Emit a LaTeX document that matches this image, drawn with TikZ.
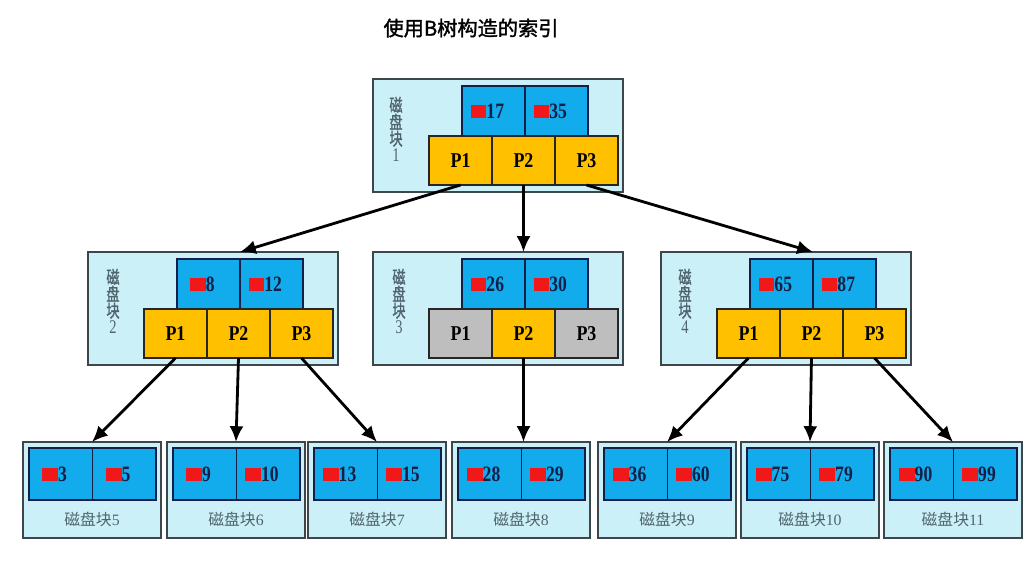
\documentclass[tikz,border=0pt]{standalone}
\usepackage{fontspec}
\usepackage{graphicx}
\setmainfont{Liberation Serif}
\newfontfamily\cjk[AutoFakeBold=1.5]{Noto Sans CJK SC}
\usetikzlibrary{arrows.meta, positioning}
\definecolor{diskbg}{RGB}{204,240,247}
\definecolor{keyblue}{RGB}{18,172,236}
\definecolor{ptryellow}{RGB}{255,192,0}
\definecolor{ptrgray}{RGB}{190,190,190}
\definecolor{keyred}{RGB}{240,24,24}
\definecolor{framegray}{RGB}{60,70,75}
\definecolor{numnavy}{RGB}{20,30,70}
\definecolor{labelgray}{RGB}{80,100,110}
\newcommand{\keyval}[1]{\textcolor{keyred}{\rule[0pt]{9pt}{7.5pt}}\scalebox{0.8}[1]{#1}\kern7pt}
\newcommand{\ptrval}[1]{\scalebox{0.85}[1]{#1}}
\newcommand{\vstrut}{\vrule height 7.8pt depth 1.2pt width 0pt}
\newcommand{\vdisk}[1]{\scalebox{0.75}[1]{\vbox{\offinterlineskip
	\hbox{\vstrut\cjk\bfseries 磁}\hbox{\vstrut\cjk\bfseries 盘}\hbox{\vstrut\cjk\bfseries 块}\hbox to 1em{\vstrut\hss\fontsize{11}{11}\selectfont #1\hss}}}}
\tikzset{disk/.style = {draw = framegray, fill = diskbg, line width = 1pt, inner sep = 0, outer sep = 0}}
\tikzset{nodeblock/.style = {disk, minimum width = 5cm, minimum height = 2.26cm}}
\tikzset{leafblock/.style = {disk, minimum width = 2.76cm, minimum height = 1.92cm}}
\tikzset{kcell/.style = {draw = numnavy, fill = keyblue, line width = 0.8pt, minimum width = 1.26cm, minimum height = 1cm, inner sep = 0, outer sep = 0, text = numnavy, font = \bfseries\fontsize{12.5}{13}\selectfont}}
\tikzset{leafkey/.style = {kcell, minimum width = 1.27cm, minimum height = 1.04cm}}
\tikzset{pcell/.style = {draw = black!85, fill = ptryellow, line width = 0.8pt, minimum width = 1.26cm, minimum height = 0.98cm, inner sep = 0, outer sep = 0, font = \bfseries\fontsize{12}{13}\selectfont}}
\tikzset{deadcell/.style = {pcell, fill = ptrgray}}
\tikzset{vlabel/.style = {text = labelgray, inner sep = 0, font = \fontsize{10}{10}\selectfont}}
\tikzset{leaflabel/.style = {text = labelgray, font = \fontsize{9}{10}\selectfont}}
\tikzset{ptr/.style = {-{Latex[length = 9pt, width = 8pt]}, line width = 1.6pt, black}}

\begin{document}
\begin{tikzpicture}[x = 0.02cm, y = -0.02cm]
	\path[fill = white] (0, 0) rectangle (1035, 565);
	\useasboundingbox (0, 0) rectangle (1035, 565);

	\node (title) at (471, 28) {\fontsize{11.5}{12}\selectfont\cjk\bfseries 使用B树构造的索引};

	% root
	\node[nodeblock] (b1) at (498, 135.5) {};
	\node[vlabel] (b1-name) at (396, 130) {\vdisk{1}};
	\node[kcell] (b1-k1) at (493.5, 111) {\keyval{17}};
	\node[kcell, right = 0pt of b1-k1] (b1-k2) {\keyval{35}};
	\node[pcell] (b1-p1) at (460.5, 160.5) {\ptrval{P1}};
	\node[pcell, right = 0pt of b1-p1] (b1-p2) {\ptrval{P2}};
	\node[pcell, right = 0pt of b1-p2] (b1-p3) {\ptrval{P3}};

	% second level
	\node[nodeblock] (b2) at (213, 308.5) {};
	\node[vlabel] (b2-name) at (113, 302) {\vdisk{2}};
	\node[kcell] (b2-k1) at (208.5, 284) {\keyval{8}};
	\node[kcell, right = 0pt of b2-k1] (b2-k2) {\keyval{12}};
	\node[pcell] (b2-p1) at (175.5, 333.5) {\ptrval{P1}};
	\node[pcell, right = 0pt of b2-p1] (b2-p2) {\ptrval{P2}};
	\node[pcell, right = 0pt of b2-p2] (b2-p3) {\ptrval{P3}};

	\node[nodeblock] (b3) at (498, 308.5) {};
	\node[vlabel] (b3-name) at (399, 302) {\vdisk{3}};
	\node[kcell] (b3-k1) at (493.5, 284) {\keyval{26}};
	\node[kcell, right = 0pt of b3-k1] (b3-k2) {\keyval{30}};
	\node[deadcell] (b3-p1) at (460.5, 333.5) {\ptrval{P1}};
	\node[pcell, right = 0pt of b3-p1] (b3-p2) {\ptrval{P2}};
	\node[deadcell, right = 0pt of b3-p2] (b3-p3) {\ptrval{P3}};

	\node[nodeblock] (b4) at (786, 308.5) {};
	\node[vlabel] (b4-name) at (685, 302) {\vdisk{4}};
	\node[kcell] (b4-k1) at (781.5, 284) {\keyval{65}};
	\node[kcell, right = 0pt of b4-k1] (b4-k2) {\keyval{87}};
	\node[pcell] (b4-p1) at (748.5, 333.5) {\ptrval{P1}};
	\node[pcell, right = 0pt of b4-p1] (b4-p2) {\ptrval{P2}};
	\node[pcell, right = 0pt of b4-p2] (b4-p3) {\ptrval{P3}};

	% leaves
	\node[leafblock] (l5) at (92, 490) {};
	\node[leafkey] (l5-k1) at (60.75, 474) {\keyval{3}};
	\node[leafkey, right = 0pt of l5-k1] (l5-k2) {\keyval{5}};
	\node[leaflabel] (l5-name) at (92, 519) {{\cjk 磁盘块}5};

	\node[leafblock] (l6) at (236, 490) {};
	\node[leafkey] (l6-k1) at (204.75, 474) {\keyval{9}};
	\node[leafkey, right = 0pt of l6-k1] (l6-k2) {\keyval{10}};
	\node[leaflabel] (l6-name) at (236, 519) {{\cjk 磁盘块}6};

	\node[leafblock] (l7) at (377, 490) {};
	\node[leafkey] (l7-k1) at (345.75, 474) {\keyval{13}};
	\node[leafkey, right = 0pt of l7-k1] (l7-k2) {\keyval{15}};
	\node[leaflabel] (l7-name) at (377, 519) {{\cjk 磁盘块}7};

	\node[leafblock] (l8) at (521, 490) {};
	\node[leafkey] (l8-k1) at (489.75, 474) {\keyval{28}};
	\node[leafkey, right = 0pt of l8-k1] (l8-k2) {\keyval{29}};
	\node[leaflabel] (l8-name) at (521, 519) {{\cjk 磁盘块}8};

	\node[leafblock] (l9) at (667, 490) {};
	\node[leafkey] (l9-k1) at (635.75, 474) {\keyval{36}};
	\node[leafkey, right = 0pt of l9-k1] (l9-k2) {\keyval{60}};
	\node[leaflabel] (l9-name) at (667, 519) {{\cjk 磁盘块}9};

	\node[leafblock] (l10) at (810, 490) {};
	\node[leafkey] (l10-k1) at (778.75, 474) {\keyval{75}};
	\node[leafkey, right = 0pt of l10-k1] (l10-k2) {\keyval{79}};
	\node[leaflabel] (l10-name) at (810, 519) {{\cjk 磁盘块}10};

	\node[leafblock] (l11) at (953, 490) {};
	\node[leafkey] (l11-k1) at (921.75, 474) {\keyval{90}};
	\node[leafkey, right = 0pt of l11-k1] (l11-k2) {\keyval{99}};
	\node[leaflabel] (l11-name) at (953, 519) {{\cjk 磁盘块}11};

	% pointers
	\draw[ptr] (b1-p1.south) -- (b2.north -| b2-k1.east);
	\draw[ptr] (b1-p2.south) -- (b1-p2.south |- b3.north);
	\draw[ptr] (b1-p3.south) -- (b4.north -| b4-k1.east);

	\draw[ptr] (b2-p1.south) -- (l5.north);
	\draw[ptr] (b2-p2.south) -- (l6.north);
	\draw[ptr] (b2-p3.south) -- (l7.north);
	\draw[ptr] (b3-p2.south) -- (b3-p2.south |- l8.north);
	\draw[ptr] (b4-p1.south) -- (l9.north);
	\draw[ptr] (b4-p2.south) -- (l10.north);
	\draw[ptr] (b4-p3.south) -- (l11.north);
\end{tikzpicture}
\end{document}
